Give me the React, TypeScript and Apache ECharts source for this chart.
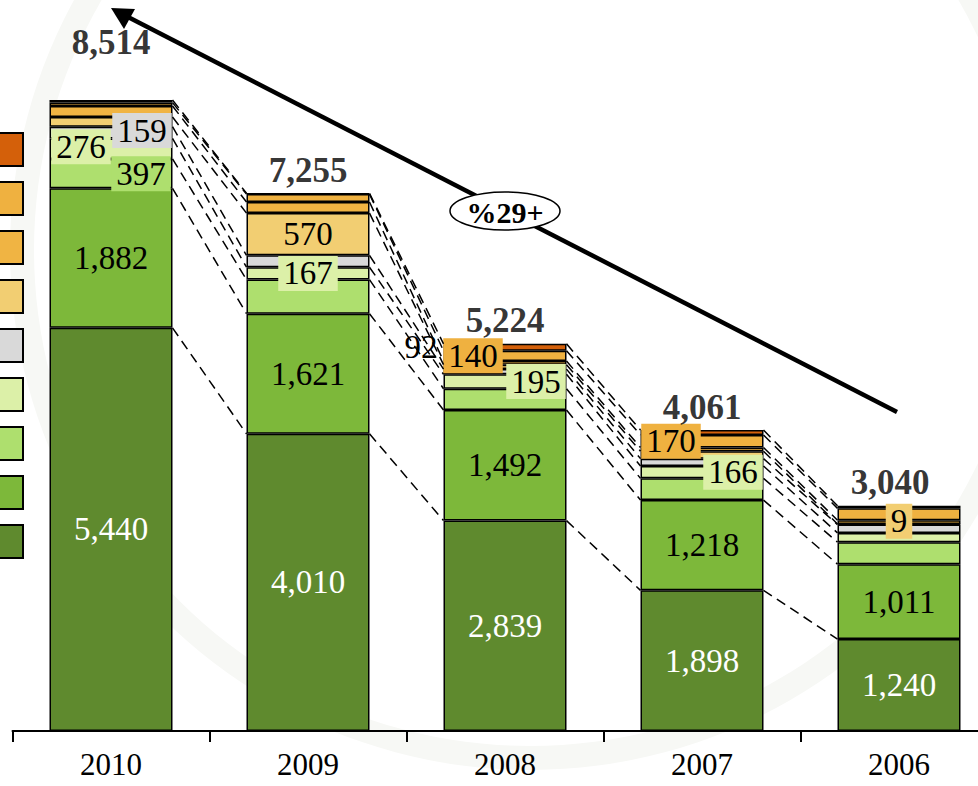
import React, { useEffect, useRef } from 'react';
import * as echarts from 'echarts';

const categories = ['2010', '2009', '2008', '2007', '2006'];
const seriesNames = ['s1', 's2', 's3', 's4', 's5', 's6', 's7', 's8', 's9'];
const darkGreen = [5440, 4010, 2839, 1898, 1240];
const green = [1882, 1621, 1492, 1218, 1011];
const lightGreen = [397, 460, 287, 293, 297];
const paleGreen = [276, 167, 195, 166, 125];
const grey = [159, 160, 70, 100, 112];
const lightOrange = [130, 570, 60, 100, 9];
const orange1 = [150, 150, 49, 50, 50];
const orange2 = [45, 107, 140, 170, 160];
const darkOrange = [35, 10, 92, 66, 36];
const totals = [8514, 7255, 5224, 4061, 3040];
const growthLabel = '%29+';

const stackValues = [darkGreen, green, lightGreen, paleGreen, grey, lightOrange, orange1, orange2, darkOrange];
const colors = ['#5F8A2E', '#7DB83A', '#AEDF6E', '#DCF0A8', '#D9D9D9', '#F2CE72', '#F0B443', '#EFB140', '#D4600A'];

const FONT = '"Liberation Serif", "Times New Roman", serif';
const BAR_W = 123;

type Spec = { s: number; c: number; dx?: number; dy?: number; bg?: boolean; pos?: string; color?: string };
const labelSpecs: Spec[] = [
  { s: 0, c: 0, color: '#fff' }, { s: 0, c: 1, color: '#fff' }, { s: 0, c: 2, color: '#fff' },
  { s: 0, c: 3, color: '#fff' }, { s: 0, c: 4, color: '#fff' },
  { s: 1, c: 0 }, { s: 1, c: 1 }, { s: 1, c: 2 }, { s: 1, c: 3 }, { s: 1, c: 4 },
  { s: 2, c: 0, dx: 30, bg: true },
  { s: 3, c: 0, dx: -30, dy: -2, bg: true },
  { s: 3, c: 1, bg: true },
  { s: 3, c: 2, dx: 31, bg: true },
  { s: 3, c: 3, dx: 31, bg: true },
  { s: 4, c: 0, dx: 31, dy: -2, bg: true },
  { s: 5, c: 1 },
  { s: 5, c: 4, dy: -3, bg: true },
  { s: 7, c: 2, dx: -32, bg: true },
  { s: 7, c: 3, dx: -31, bg: true },
  { s: 8, c: 2, pos: 'left' },
];

const fmt = (v: number) => v.toLocaleString('en-US');

const cum = categories.map((_, c) => {
  let s = 0;
  return stackValues.map((arr) => (s += arr[c]));
});

export default function App() {
  const ref = useRef<HTMLDivElement>(null);
  useEffect(() => {
    if (!ref.current) return;
    const chart = echarts.init(ref.current, undefined, { renderer: 'svg' });

    const barSeries = stackValues.map((vals, s) => ({
      name: seriesNames[s],
      type: 'bar',
      stack: 'total',
      barWidth: BAR_W,
      itemStyle: { color: colors[s], borderColor: '#000', borderWidth: 1.5 },
      label: { show: false },
      emphasis: { disabled: true },
      data: vals.map((v, c) => {
        const spec = labelSpecs.find((l) => l.s === s && l.c === c);
        if (!spec) return v;
        return {
          value: v,
          label: {
            show: true,
            position: spec.pos || 'inside',
            distance: 6,
            offset: [spec.dx || 0, spec.dy || 0],
            formatter: fmt(v),
            fontFamily: FONT,
            fontSize: 33,
            color: spec.color || '#000',
            backgroundColor: spec.bg ? colors[s] : 'transparent',
            padding: spec.bg ? [1, 5] : 0,
          },
        };
      }),
    }));

    const option: any = {
      animation: false,
      grid: {
        left: 12.5,
        width: 985,
        top: 64,
        bottom: 55,
        containLabel: false,
        outerBoundsMode: 'none',
      },
      legend: {
        orient: 'vertical',
        left: -25,
        top: 127,
        padding: 5,
        itemWidth: 42,
        itemHeight: 33,
        itemGap: 14,
        selectedMode: false,
        icon: 'rect',
        formatter: () => '',
        data: [...seriesNames].reverse(),
        itemStyle: { borderColor: '#000', borderWidth: 2 },
        textStyle: { fontSize: 1, lineHeight: 1 },
      },
      xAxis: {
        type: 'category',
        data: categories,
        axisLine: { lineStyle: { color: '#000', width: 2 } },
        axisTick: { show: true, length: 11, lineStyle: { color: '#000', width: 2 } },
        axisLabel: { fontFamily: FONT, fontSize: 31, color: '#000', margin: 18 },
      },
      yAxis: { type: 'value', min: 0, max: 9000, show: false, splitLine: { show: false } },
      graphic: [
        {
          type: 'ring',
          z: -10,
          silent: true,
          shape: { cx: 530, cy: 250, r: 520, r0: 496 },
          style: { fill: '#F7F8F5' },
        },
        {
          type: 'line',
          z: 100,
          shape: { x1: 897, y1: 412, x2: 128, y2: 17 },
          style: { stroke: '#000', lineWidth: 4.5 },
        },
        {
          type: 'polygon',
          z: 100,
          shape: { points: [[111, 8], [135, 9], [124, 29]] },
          style: { fill: '#000' },
        },
        {
          type: 'ellipse',
          z: 101,
          shape: { cx: 505, cy: 211, rx: 55, ry: 19 },
          style: { fill: '#fff', stroke: '#000', lineWidth: 1.5 },
        },
        {
          type: 'text',
          z: 102,
          x: 505,
          y: 212,
          style: {
            text: growthLabel,
            fontFamily: FONT,
            fontWeight: 'bold',
            fontSize: 30,
            fill: '#000',
            align: 'center',
            verticalAlign: 'middle',
          },
        },
      ],
      series: [
        ...barSeries,
        {
          type: 'custom',
          name: 'connectors',
          silent: true,
          z: 3,
          data: categories.slice(0, -1).map((_, i) => [i, 0]),
          encode: { x: 0, y: 1 },
          renderItem: (params: any, api: any) => {
            const i = params.dataIndex;
            const half = BAR_W / 2;
            const children = cum[i].map((v, k) => {
              const p1 = api.coord([i, v]);
              const p2 = api.coord([i + 1, cum[i + 1][k]]);
              return {
                type: 'line',
                shape: { x1: p1[0] + half, y1: p1[1], x2: p2[0] - half, y2: p2[1] },
                style: { stroke: '#000', lineWidth: 1.5, lineDash: [10, 6] },
              };
            });
            return { type: 'group', children };
          },
        },
        {
          type: 'scatter',
          name: 'totals',
          symbolSize: 1,
          itemStyle: { color: 'rgba(0,0,0,0)' },
          silent: true,
          z: 5,
          data: totals.map((v, c) => ({
            value: v,
            label: {
              show: true,
              position: 'top',
              distance: 5,
              offset: c === 0 ? [0, -35] : c === 4 ? [-9, 0] : [0, 0],
              formatter: fmt(v),
              fontFamily: FONT,
              fontWeight: 'bold',
              fontSize: 35,
              color: '#000',
            },
          })),
        },
      ],
    };
    chart.setOption(option);
    return () => chart.dispose();
  }, []);
  return <div ref={ref} style={{ width: 978, height: 786, position: 'absolute', left: 0, top: 0 }} />;
}
